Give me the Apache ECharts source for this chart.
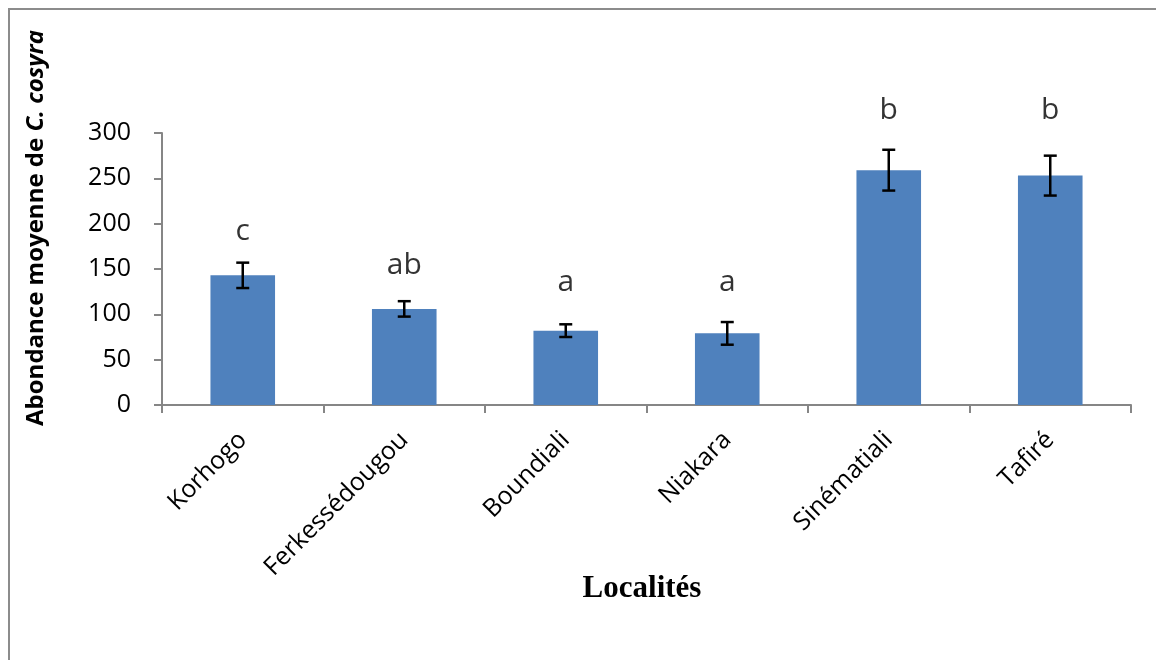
<!DOCTYPE html>
<html>
<head>
<meta charset="utf-8">
<script src="https://cdn.jsdelivr.net/npm/echarts@6/dist/echarts.min.js"></script>
<style>
html,body{margin:0;padding:0;background:#fff;}
#chart{width:1156px;height:660px;}
</style>
</head>
<body>
<div id="chart"></div>
<script>
const categories = ['Korhogo', 'Ferkessédougou', 'Boundiali', 'Niakara', 'Sinématiali', 'Tafiré'];
const means = [143, 106, 82, 79, 259, 253];
const errors = [14, 8.5, 7, 12.5, 22.5, 22];
const letters = ['c', 'ab', 'a', 'a', 'b', 'b'];
const letterY = [191, 154, 135, 135, 325, 325];
const yTicks = [0, 50, 100, 150, 200, 250, 300];

const chart = echarts.init(document.getElementById('chart'));
const axisGray = '#868686';
const font = 'Open Sans';

chart.setOption({
  animation: false,
  backgroundColor: '#fff',
  graphic: [{
    type: 'rect',
    shape: { x: 9, y: 9, width: 1300, height: 800 },
    style: { fill: 'none', stroke: '#8c8c8c', lineWidth: 2 },
    silent: true
  }],
  grid: { left: 162, right: 25, top: 133, bottom: 255 },
  xAxis: {
    type: 'category',
    data: categories,
    name: 'Localités',
    nameLocation: 'middle',
    nameGap: 168,
    nameMoveOverlap: false,
    nameTextStyle: { fontFamily: 'Liberation Serif', fontWeight: 'bold', fontSize: 31, color: '#000', padding: [0, 9, 0, 0] },
    axisLine: { lineStyle: { color: axisGray, width: 2 } },
    axisTick: { show: true, length: 8, lineStyle: { color: axisGray, width: 2 } },
    axisLabel: { rotate: 45, fontFamily: font, fontSize: 25, color: '#000', margin: 31, interval: 0 }
  },
  yAxis: {
    type: 'value',
    min: 0, max: 300, interval: 50,
    name: '{b|Abondance moyenne de }{i|C. cosyra}',
    nameLocation: 'middle',
    nameGap: 114,
    nameMoveOverlap: false,
    nameTextStyle: {
      color: '#000',
      padding: [0, 0, 0, 82],
      rich: {
        b: { fontFamily: font, fontWeight: 'bold', fontSize: 24, color: '#000' },
        i: { fontFamily: font, fontWeight: 'bold', fontStyle: 'italic', fontSize: 24, color: '#000' }
      }
    },
    axisLine: { show: true, lineStyle: { color: axisGray, width: 2 } },
    axisTick: { show: true, length: 8, lineStyle: { color: axisGray, width: 2 } },
    splitLine: { show: false },
    axisLabel: { fontFamily: font, fontSize: 25, color: '#000', margin: 31,
      formatter: v => yTicks.includes(v) ? String(v) : '' }
  },
  series: [
    {
      type: 'bar',
      data: means,
      barWidth: '40%',
      itemStyle: { color: '#4F81BD' },
      z: 2
    },
    {
      type: 'custom',
      data: means.map((m, i) => [i, m - errors[i], m + errors[i]]),
      z: 5,
      renderItem: function (params, api) {
        const lo = api.coord([api.value(0), api.value(1)]);
        const hi = api.coord([api.value(0), api.value(2)]);
        const w = 6.5;
        const st = { stroke: '#000', lineWidth: 2.5 };
        return {
          type: 'group',
          children: [
            { type: 'line', shape: { x1: lo[0], y1: lo[1], x2: hi[0], y2: hi[1] }, style: st },
            { type: 'line', shape: { x1: lo[0] - w, y1: lo[1], x2: lo[0] + w, y2: lo[1] }, style: st },
            { type: 'line', shape: { x1: hi[0] - w, y1: hi[1], x2: hi[0] + w, y2: hi[1] }, style: st }
          ]
        };
      }
    },
    {
      type: 'scatter',
      data: letterY.map((y, i) => [i, y]),
      symbolSize: 0,
      clip: false,
      label: {
        show: true,
        position: 'inside',
        formatter: p => letters[p.dataIndex],
        fontFamily: font,
        fontSize: 30,
        color: '#000',
        textBorderWidth: 0
      },
      z: 6
    }
  ]
});
</script>
</body>
</html>
